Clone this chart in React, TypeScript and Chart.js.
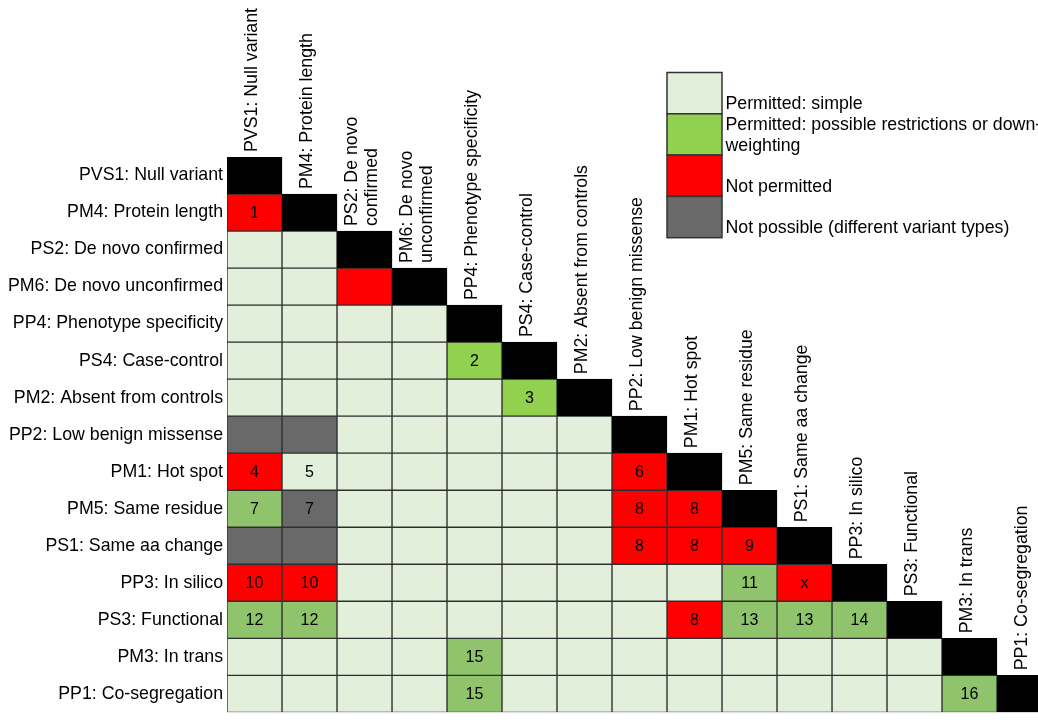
import React, { useEffect, useRef } from "react";
import { Chart, registerables } from "chart.js";
Chart.register(...registerables);

const rowLabels = [
  "PVS1: Null variant",
  "PM4: Protein length",
  "PS2: De novo confirmed",
  "PM6: De novo unconfirmed",
  "PP4: Phenotype specificity",
  "PS4: Case-control",
  "PM2: Absent from controls",
  "PP2: Low benign missense",
  "PM1: Hot spot",
  "PM5: Same residue",
  "PS1: Same aa change",
  "PP3: In silico",
  "PS3: Functional",
  "PM3: In trans",
  "PP1: Co-segregation",
];

const colHeaders: string[][] = [
  ["PVS1: Null variant"],
  ["PM4: Protein length"],
  ["PS2: De novo", "confirmed"],
  ["PM6: De novo", "unconfirmed"],
  ["PP4: Phenotype specificity"],
  ["PS4: Case-control"],
  ["PM2: Absent from controls"],
  ["PP2: Low benign missense"],
  ["PM1: Hot spot"],
  ["PM5: Same residue"],
  ["PS1: Same aa change"],
  ["PP3: In silico"],
  ["PS3: Functional"],
  ["PM3: In trans"],
  ["PP1: Co-segregation"],
];

// S = permitted simple, G/g = permitted with restrictions, R = not permitted,
// X = not possible, D = diagonal (same criterion)
const cellStatus = [
  "D",
  "RD",
  "SSD",
  "SSRD",
  "SSSSD",
  "SSSSGD",
  "SSSSSGD",
  "XXSSSSSD",
  "RSSSSSSRD",
  "gXSSSSSRRD",
  "XXSSSSSRRRD",
  "RRSSSSSSSgRD",
  "ggSSSSSSRgggD",
  "SSSSgSSSSSSSSD",
  "SSSSgSSSSSSSSgD",
];

const cellNotes: string[][] = [
  [""],
  ["1", ""],
  ["", "", ""],
  ["", "", "", ""],
  ["", "", "", "", ""],
  ["", "", "", "", "2", ""],
  ["", "", "", "", "", "3", ""],
  ["", "", "", "", "", "", "", ""],
  ["4", "5", "", "", "", "", "", "6", ""],
  ["7", "7", "", "", "", "", "", "8", "8", ""],
  ["", "", "", "", "", "", "", "8", "8", "9", ""],
  ["10", "10", "", "", "", "", "", "", "", "11", "x", ""],
  ["12", "12", "", "", "", "", "", "", "8", "13", "13", "14", ""],
  ["", "", "", "", "15", "", "", "", "", "", "", "", "", ""],
  ["", "", "", "", "15", "", "", "", "", "", "", "", "", "16", ""],
];

const legendLabels: string[][] = [
  ["Permitted: simple"],
  ["Permitted: possible restrictions or down-", "weighting"],
  ["Not permitted"],
  ["Not possible (different variant types)"],
];
const legendColors = ["#E2EFDA", "#92D050", "#FF0000", "#696969"];

const statusColors: Record<string, string> = {
  S: "#E2EFDA",
  G: "#92D050",
  g: "#8FC36C",
  R: "#FF0000",
  X: "#696969",
  D: "#000000",
};

const FONT = "'Liberation Sans', Arial, sans-serif";
const LABEL_SIZE = 17.75;
const NOTE_SIZE = 16;

export default function App() {
  const ref = useRef<HTMLCanvasElement | null>(null);

  useEffect(() => {
    if (!ref.current) return;
    const n = rowLabels.length;
    const datasets = colHeaders.map((_, j) => ({
      label: rowLabels[j],
      data: rowLabels.map((_, i) => (j < cellStatus[i].length ? [j, j + 1] : null)),
      backgroundColor: rowLabels.map((_, i) =>
        j < cellStatus[i].length ? statusColors[cellStatus[i][j]] : "rgba(0,0,0,0)"
      ),
      borderColor: rowLabels.map((_, i) =>
        j < cellStatus[i].length && cellStatus[i][j] === "D" ? "#000000" : "#2e2e2e"
      ),
      borderWidth: 1,
      borderSkipped: false,
      grouped: false,
      barPercentage: 1,
      categoryPercentage: 1,
    }));

    const overlay = {
      id: "overlay",
      afterDraw(chart: any) {
        const ctx = chart.ctx;
        ctx.save();
        // cell notes
        ctx.fillStyle = "#000";
        ctx.textAlign = "center";
        ctx.textBaseline = "middle";
        ctx.font = `${NOTE_SIZE}px ${FONT}`;
        for (let j = 0; j < n; j++) {
          const meta = chart.getDatasetMeta(j);
          meta.data.forEach((el: any, i: number) => {
            const note = cellNotes[i] && cellNotes[i][j];
            if (!note) return;
            const p = el.getCenterPoint();
            ctx.fillText(note, p.x, p.y + 1);
          });
        }
        // column headers
        ctx.font = `${LABEL_SIZE}px ${FONT}`;
        ctx.textAlign = "left";
        ctx.textBaseline = "middle";
        for (let j = 0; j < n; j++) {
          const el: any = chart.getDatasetMeta(j).data[j];
          const p = el.getCenterPoint();
          const top = el.y - el.height / 2;
          const lines = colHeaders[j];
          const spacing = 20;
          lines.forEach((line, k) => {
            const off = (k - (lines.length - 1) / 2) * spacing;
            ctx.save();
            ctx.translate(p.x - 2 + off, top - 5);
            ctx.rotate(-Math.PI / 2);
            ctx.fillText(line, 0, 0);
            ctx.restore();
          });
        }
        // legend
        const xs = chart.scales.x;
        const left = xs.getPixelForValue(8);
        const w = xs.getPixelForValue(9) - left;
        const top = 72.5;
        const h = 41.3;
        legendColors.forEach((c, k) => {
          const y0 = top + k * h;
          ctx.fillStyle = c;
          ctx.fillRect(left, y0, w, h);
          ctx.strokeStyle = "#333";
          ctx.lineWidth = 1.5;
          ctx.strokeRect(left, y0, w, h);
          const lines = legendLabels[k];
          ctx.fillStyle = "#000";
          ctx.textAlign = "left";
          ctx.textBaseline = "alphabetic";
          const base = y0 + h - 4.5;
          for (let m = lines.length - 1; m >= 0; m--) {
            ctx.fillText(lines[m], left + w + 3.5, base - (lines.length - 1 - m) * 21);
          }
        });
        ctx.restore();
      },
    };

    const chart = new Chart(ref.current, {
      type: "bar",
      data: { labels: rowLabels, datasets: datasets as any },
      options: {
        animation: false,
        responsive: false,
        indexAxis: "y",
        layout: { padding: { top: 157, right: 0, bottom: 0, left: 0 } },
        scales: {
          x: { type: "linear", min: 0, max: 15, display: false },
          y: {
            type: "category",
            offset: true,
            grid: { display: false, drawTicks: false },
            border: { display: false },
            ticks: {
              color: "#000",
              padding: 4,
              autoSkip: false,
              font: { family: FONT, size: LABEL_SIZE },
            },
            afterFit: (s: any) => {
              s.width = 227;
            },
          },
        },
        plugins: { legend: { display: false }, tooltip: { enabled: false } },
      } as any,
      plugins: [overlay],
    });
    return () => chart.destroy();
  }, []);

  return (
    <div
      style={{
        position: "fixed",
        left: 0,
        top: 0,
        width: 1038,
        height: 723,
        overflow: "hidden",
        background: "#fff",
      }}
    >
      <canvas ref={ref} width={1052} height={727} style={{ display: "block", width: 1052, height: 727 }} />
    </div>
  );
}
